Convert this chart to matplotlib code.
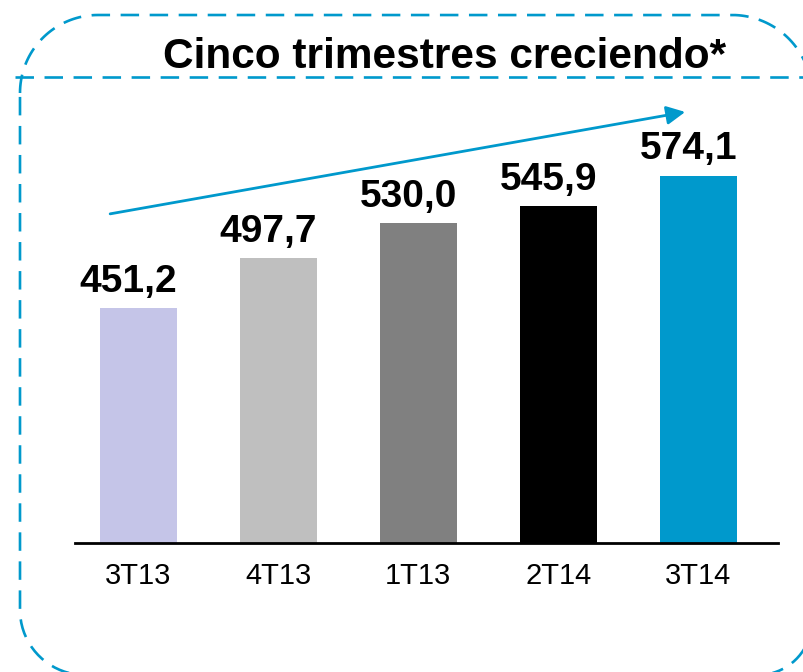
import numpy as np
import matplotlib
matplotlib.use("Agg")
import matplotlib.pyplot as plt

plt.rcParams['font.family'] = ['Liberation Sans', 'DejaVu Sans']

# datos
trimestres = ['3T13', '4T13', '1T13', '2T14', '3T14']
valores = [451.2, 497.7, 530.0, 545.9, 574.1]
etiquetas = ['451,2', '497,7', '530,0', '545,9', '574,1']
colores = ['#C5C5E8', '#BFBFBF', '#808080', '#000000', '#0099CC']
titulo = 'Cinco trimestres creciendo*'

azul = '#0099CC'
W, H = 804, 672


def arco(cx, cy, r, a0, a1):
    t = np.radians(np.linspace(a0, a1, 40))
    return cx + r * np.cos(t), cy + r * np.sin(t)


fig = plt.figure(figsize=(W / 100, H / 100), dpi=100)

# capa de fondo en pixeles (y hacia abajo) para el marco discontinuo
bg = fig.add_axes([0, 0, 1, 1])
bg.set_xlim(0, W)
bg.set_ylim(H, 0)
bg.axis('off')

L, R, T, B = 20, 812, 15, 675
r_tl, r_tr, r_br, r_bl = 78, 80, 54, 65
xs, ys = [], []
for cx, cy, r, a0, a1 in [(L + r_tl, T + r_tl, r_tl, 180, 270),
                          (R - r_tr, T + r_tr, r_tr, 270, 360),
                          (R - r_br, B - r_br, r_br, 0, 90),
                          (L + r_bl, B - r_bl, r_bl, 90, 180)]:
    ax_, ay_ = arco(cx, cy, r, a0, a1)
    xs.extend(ax_)
    ys.extend(ay_)
xs.append(xs[0])
ys.append(ys[0])
bg.plot(xs, ys, color=azul, linewidth=1.9, linestyle=(0, (7, 4)), clip_on=False)
bg.plot([15, W], [77, 77], color=azul, linewidth=1.9, linestyle=(0, (7, 4)))

fig.text(445 / W, 1 - 68 / H, titulo, ha='center', va='baseline',
         fontsize=30.5, fontweight='bold')

# grafico de barras
ax = fig.add_axes([75 / W, (H - 543) / H, (778 - 75) / W, (543 - 100) / H])
x = np.arange(len(valores))
barras = ax.bar(x, valores, width=0.55, color=colores)
ax.set_xlim(-0.45, 4.57)
ax.set_ylim(234, 644)
ax.set_xticks(x)
ax.set_xticklabels(trimestres, fontsize=21)
ax.tick_params(axis='x', length=0, pad=14)
ax.set_yticks([])
for s in ['left', 'right', 'top']:
    ax.spines[s].set_visible(False)
ax.spines['bottom'].set_linewidth(2)
ax.patch.set_alpha(0)

for b, t in zip(barras, etiquetas):
    ax.annotate(t, (b.get_x() + b.get_width() / 2, b.get_height()),
                xytext=(-7, 6), textcoords='offset points',
                ha='center', va='bottom', fontsize=28, fontweight='bold')

# flecha de tendencia
ax.annotate('', xy=(0.868, 0.973), xytext=(0.050, 0.743),
            xycoords='axes fraction', textcoords='axes fraction',
            arrowprops=dict(arrowstyle='-|>', color=azul, lw=2,
                            mutation_scale=28, shrinkA=0, shrinkB=0))

fig.savefig('out.png', dpi=100)
